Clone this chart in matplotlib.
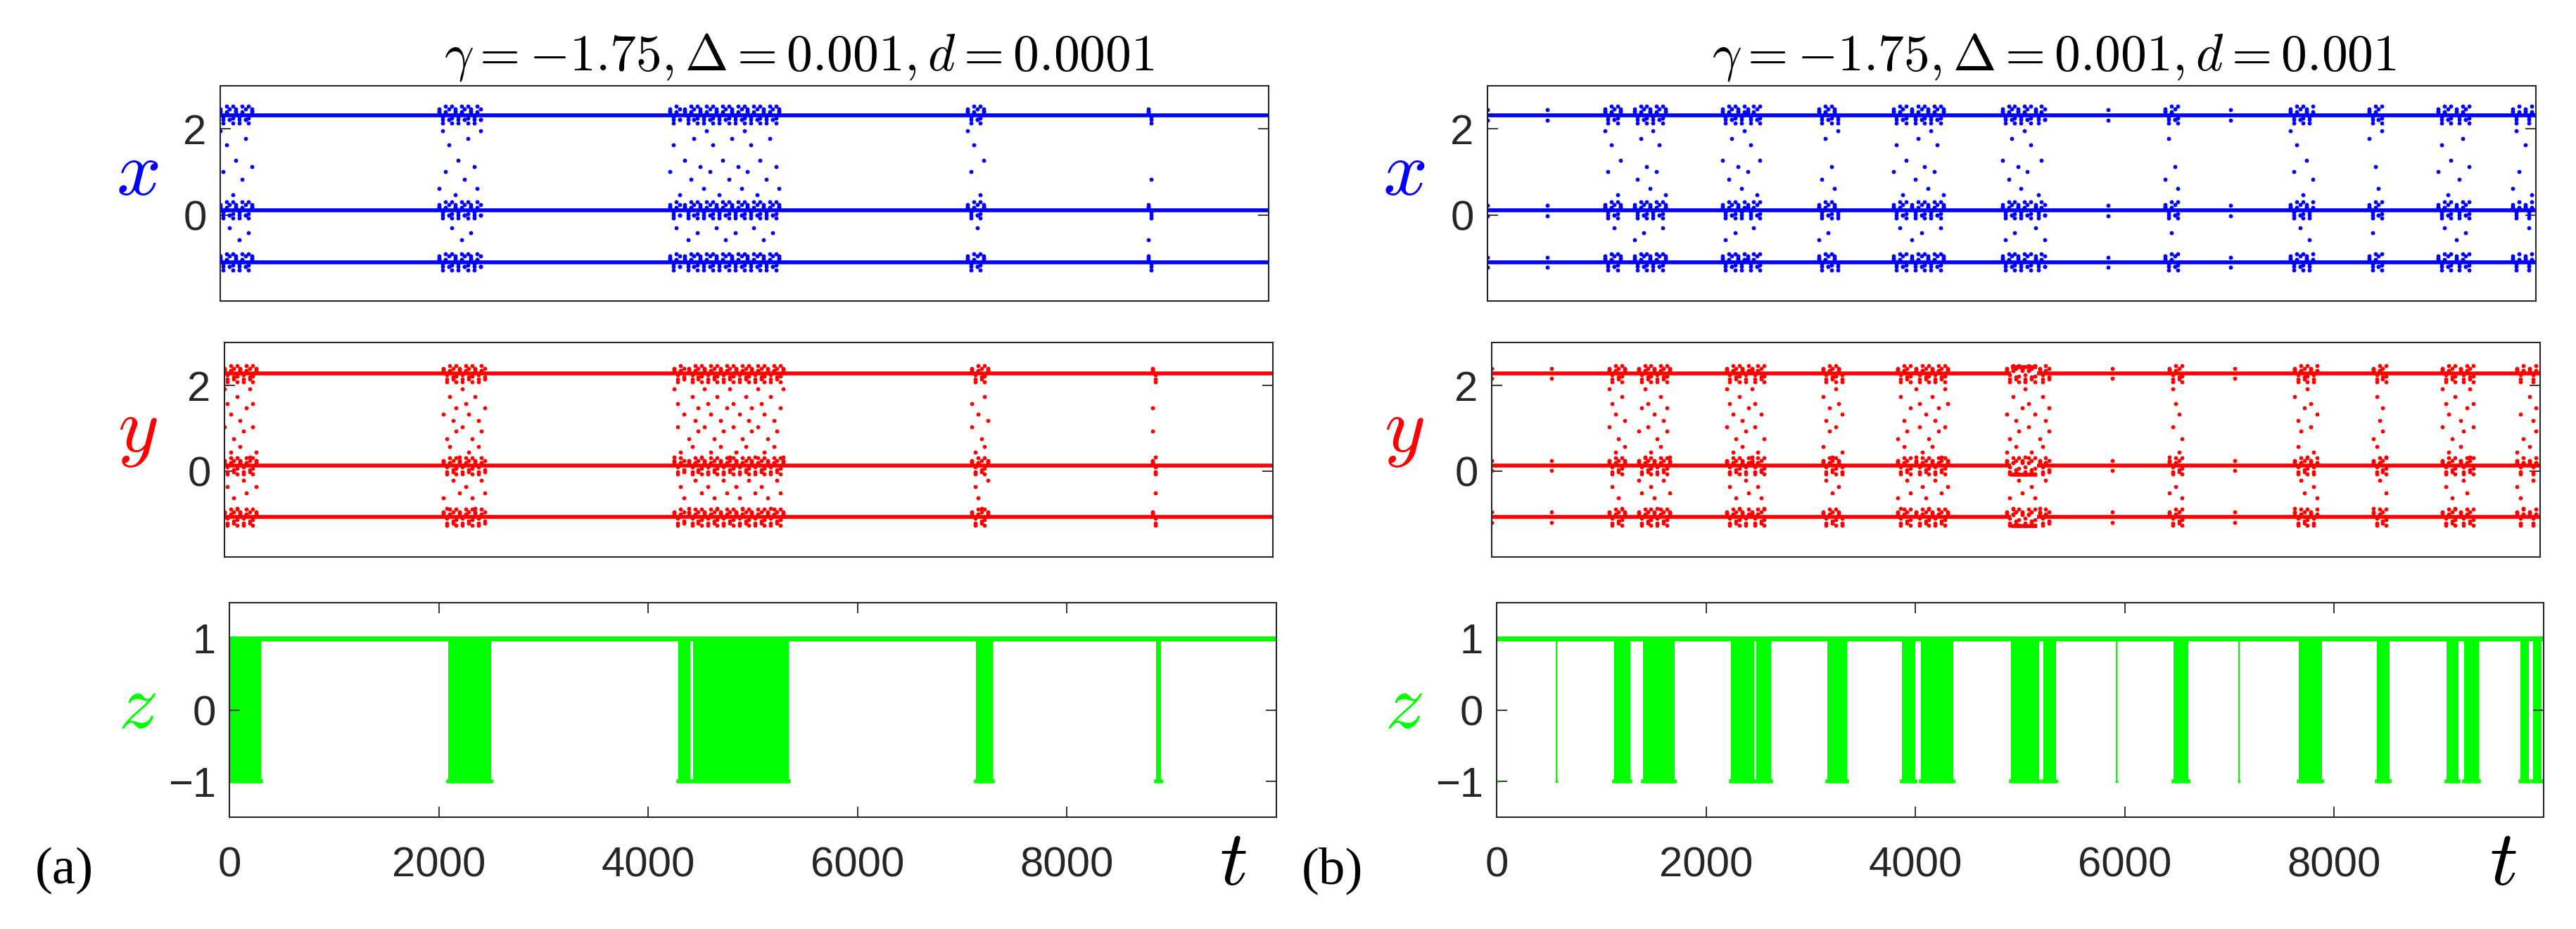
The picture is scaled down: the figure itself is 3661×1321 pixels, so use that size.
import numpy as np
import matplotlib.pyplot as plt

plt.rcParams['mathtext.fontset'] = 'cm'
plt.rcParams['font.family'] = ['Liberation Sans', 'DejaVu Sans']

W, H = 3662, 1321
t_max = 10000
t_ticks = [0, 2000, 4000, 6000, 8000]

# plateau levels of the x and y traces
x_levels = [2.32, 0.10, -1.10]
y_levels = [2.28, 0.13, -1.07]

# bursts (start, end)
bursts_a = [(0, 300), (2090, 2500), (4290, 4400), (4430, 5340), (7130, 7290), (8850, 8900)]
bursts_b = [(1120, 1280), (1400, 1700), (2240, 2460), (2480, 2620), (3160, 3350),
            (3870, 4000), (4050, 4360), (4910, 5180), (5225, 5340), (6465, 6605),
            (7660, 7880), (8410, 8530), (9070, 9190), (9240, 9380), (9780, 9860),
            (9900, 9980)]
spikes_a = []
spikes_b = [0, 570, 5920, 7090]

# values visited between plateaus during a burst
x_transit = [1.95, 1.0, 1.62, -0.3, 0.47, 1.27, -0.58, 0.82, 1.78, -0.42, 1.12, 0.62]
y_transit = [1.92, 1.03, 1.58, -0.36, 0.44, 1.33, -0.62, 0.76, -0.87, 1.74, 0.58,
             1.18, -0.21, 0.93, 1.47, -0.5, 0.32]
# excursions around each plateau inside a burst
x_jitter = [0.14, -0.18, 0.07, -0.1, 0.2]
y_jitter = [0.12, -0.2, 0.06, -0.14, 0.18]

# shifted plateaus in panel (b), y trace
y_shift_b = (4950, 5200, [2.42, -0.08, -1.28])

blue, red, green = '#0000ff', '#ff0000', '#00ff00'
frame = '#262626'


def axes_at(left, right, top, bottom):
    return fig.add_axes([left / W, 1 - bottom / H, (right - left) / W, (bottom - top) / H])


def style(ax, yticks, ylim, show_t):
    ax.set_xlim(0, t_max)
    ax.set_ylim(*ylim)
    ax.set_yticks(yticks)
    for s in ax.spines.values():
        s.set_color(frame)
        s.set_linewidth(1.5)
    ax.tick_params(direction='in', length=11, width=1.3, color=frame, labelcolor=frame,
                   labelsize=43, pad=14, left=True, right=True)
    if show_t:
        ax.set_xticks(t_ticks)
        ax.set_xticklabels([str(v) for v in t_ticks])
        ax.tick_params(axis='x', top=True, bottom=True, pad=30)
    else:
        ax.set_xticks([])


def trace(ax, levels, bursts, spikes, transit, jitter, color, n_transit, shift=None):
    if shift is None:
        for L in levels:
            ax.plot([0, t_max], [L, L], color=color, lw=4, solid_capstyle='butt')
    else:
        s0, s1, new = shift
        for L, N in zip(levels, new):
            ax.plot([0, s0], [L, L], color=color, lw=4, solid_capstyle='butt')
            ax.plot([s0, s1], [N, N], color=color, lw=4, solid_capstyle='butt')
            ax.plot([s1, t_max], [L, L], color=color, lw=4, solid_capstyle='butt')
    ts, vs = [], []
    m = 0
    for s, e in bursts:
        cols = np.arange(s, e + 1, 30)
        for k, tc in enumerate(cols):
            for L in levels:
                ts += [tc, tc, tc]
                vs += [L + jitter[k % len(jitter)], L + jitter[(k + 2) % len(jitter)],
                       L - 0.5 * jitter[(k + 1) % len(jitter)]]
            for j in range(n_transit):
                ts.append(tc)
                vs.append(transit[m % len(transit)])
                m += 1
    for tc in spikes:
        for L in levels:
            ts += [tc, tc]
            vs += [L + 0.12, L - 0.12]
    ax.plot(ts, vs, 'o', color=color, ms=4.2, mew=0)


def zpanel(ax, bursts, spikes):
    ax.plot([0, t_max], [1, 1], color=green, lw=5, solid_capstyle='butt')
    for s, e in bursts:
        ax.fill_between([s, e], -1, 1, color=green, lw=0)
        ax.plot([s, e], [-1, -1], color=green, lw=4)
    if spikes:
        ax.vlines(spikes, -1, 1, color=green, lw=1.5)
        ax.plot(spikes, [-1] * len(spikes), 'o', color=green, ms=3, mew=0)


fig = plt.figure(figsize=(W / 100, H / 100), dpi=100)

panels = [
    dict(off=0, bursts=bursts_a, spikes=spikes_a, shift=None,
         title=r'$\gamma=-1.75, \Delta=0.001, d=0.0001$', tx=1136, lx=195,
         tag='(a)', tagx=91, tt=1752),
    dict(off=1801, bursts=bursts_b, spikes=spikes_b, shift=y_shift_b,
         title=r'$\gamma=-1.75, \Delta=0.001, d=0.001$', tx=2919, lx=1995,
         tag='(b)', tagx=1893, tt=3557),
]

for p in panels:
    o = p['off']
    ax_x = axes_at(313 + o, 1803 + o, 122, 428)
    trace(ax_x, x_levels, p['bursts'], p['spikes'], x_transit, x_jitter, blue, 1)
    style(ax_x, [0, 2], (-2, 3), False)

    ax_y = axes_at(319 + o, 1809 + o, 487, 792)
    trace(ax_y, y_levels, p['bursts'], p['spikes'], y_transit, y_jitter, red, 2, p['shift'])
    style(ax_y, [0, 2], (-2, 3), False)

    ax_z = axes_at(326 + o, 1814 + o, 857, 1162)
    zpanel(ax_z, p['bursts'], p['spikes'])
    style(ax_z, [-1, 0, 1], (-1.5, 1.5), True)

    fig.text(p['tx'] / W, 1 - 100 / H, p['title'], fontsize=53, ha='center', va='baseline')
    fig.text(p['lx'] / W, 1 - 277 / H, r'$x$', fontsize=80, color=blue, ha='center', va='baseline')
    fig.text(p['lx'] / W, 1 - 642 / H, r'$y$', fontsize=80, color=red, ha='center', va='baseline')
    fig.text(p['lx'] / W, 1 - 1035 / H, r'$z$', fontsize=80, color=green, ha='center', va='baseline')
    fig.text(p['tagx'] / W, 1 - 1238 / H, p['tag'], fontsize=54, ha='center', va='center',
             family=['Liberation Serif', 'DejaVu Serif'])
    fig.text(p['tt'] / W, 1 - 1258 / H, r'$t$', fontsize=80, ha='center', va='baseline')

fig.savefig('out.png', dpi=100)
